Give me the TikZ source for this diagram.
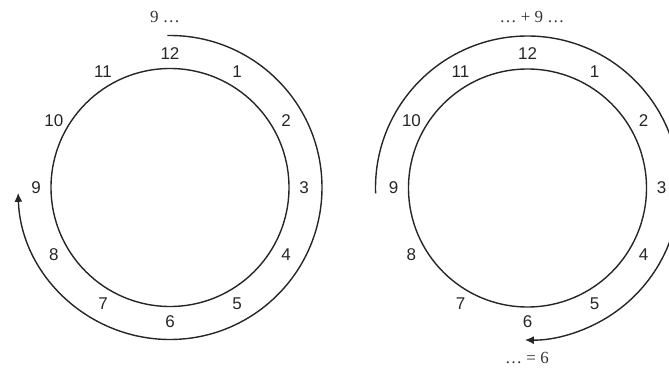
\documentclass[tikz,border=0pt]{standalone}
\usepackage{fontspec}
\setmainfont{Liberation Serif}
\newfontfamily\digitfont{Liberation Sans}
\usetikzlibrary{arrows.meta,calc}
\begin{document}
\begin{tikzpicture}[x=1pt,y=1pt,
  ring/.style={line width=1.4pt,black!85},
  sweep/.style={line width=1.4pt,black!85,-{Latex[length=9pt,width=8pt]}},
  hour/.style={font=\digitfont\fontsize{17}{20}\selectfont,text=black!85,inner sep=0pt},
  caption/.style={font=\fontsize{17}{20}\selectfont,text=black!80,inner sep=0pt}]
\useasboundingbox (0,0) rectangle (669,381);
\clip (0,0) rectangle (669,381);
% centres
\coordinate (Lc) at (170,193.5);
\coordinate (Rc) at (527.5,193);
% inner circles
\draw[ring] (Lc) circle[radius=119];
\draw[ring] (Rc) circle[radius=119];
% hour labels
\foreach \h in {1,...,12}{
  \node[hour] (L\h) at ($(Lc)+({90-30*\h}:134)$) {\h};
  \node[hour] (R\h) at ($(Rc)+({90-30*\h}:134)$) {\h};
}
% left sweep: 12 -> 9 clockwise
\coordinate (Ls) at ($(Lc)+(91:152)$);
\draw[sweep] (Ls) arc[start angle=91, end angle=-178, radius=152];
% right sweep: 9 -> 6 clockwise
\coordinate (Rs) at ($(Rc)+(182:152)$);
\draw[sweep] (Rs) arc[start angle=182, end angle=-91, radius=152];
% captions
\node[caption] (capL) at (165,364) {9 \ldots};
\node[caption] (capR) at (532,364) {\ldots{} + 9 \ldots};
\node[caption] (capB) at (527,23) {\ldots{} = 6};
\end{tikzpicture}
\end{document}
